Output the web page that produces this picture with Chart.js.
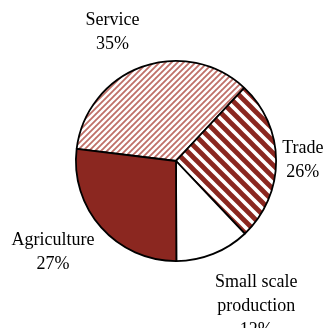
<!DOCTYPE html>
<html>
<head>
<meta charset="utf-8">
<script src="https://cdn.jsdelivr.net/npm/chart.js@4"></script>
<style>
html,body{margin:0;padding:0;background:#fff;}
#wrap{width:329px;height:328px;position:relative;}
</style>
</head>
<body>
<div id="wrap"><canvas id="c" width="329" height="328"></canvas></div>
<script>
// ---- data ----
const categories = ['Service', 'Trade', 'Small scale production', 'Agriculture'];
const shares = [35, 26, 12, 27];
const labelLines = [['Service', '35%'], ['Trade', '26%'], ['Small scale', 'production', '12%'], ['Agriculture', '27%']];
// label anchor offsets, in units of the pie radius (first line baseline)
const labelOffsets = [[-0.634, -1.356], [1.267, -0.079], [0.802, 1.257], [-1.228, 0.842]];

const DARK = '#8b2720';

function stripePattern(size, color, width, dir, bg) {
  const c = document.createElement('canvas');
  c.width = size; c.height = size;
  const g = c.getContext('2d');
  g.fillStyle = bg; g.fillRect(0, 0, size, size);
  g.strokeStyle = color; g.lineWidth = width; g.lineCap = 'square';
  for (let k = -1; k <= 1; k++) {
    g.beginPath();
    if (dir === '/') { g.moveTo(k * size, size); g.lineTo(k * size + size, 0); }
    else { g.moveTo(k * size, 0); g.lineTo(k * size + size, size); }
    g.stroke();
  }
  return g.createPattern(c, 'repeat');
}

const ctx0 = document.getElementById('c').getContext('2d');
const fills = [
  stripePattern(6, '#bf7069', 1.8, '/', '#ffffff'),
  stripePattern(12, DARK, 4.8, '\\', '#ffffff'),
  '#ffffff',
  DARK
];

const labelPlugin = {
  id: 'pieLabels',
  afterDraw(chart) {
    const meta = chart.getDatasetMeta(0);
    const ctx = chart.ctx;
    ctx.save();
    ctx.font = '18px "Liberation Serif", "Times New Roman", serif';
    ctx.fillStyle = '#000';
    ctx.textAlign = 'center';
    ctx.textBaseline = 'alphabetic';
    meta.data.forEach((arc, i) => {
      const r = arc.outerRadius;
      const x = arc.x + labelOffsets[i][0] * r;
      let y = arc.y + labelOffsets[i][1] * r;
      labelLines[i].forEach((t, j) => ctx.fillText(t, x, y + j * 24));
    });
    ctx.restore();
  }
};

new Chart(ctx0, {
  type: 'pie',
  data: {
    labels: categories,
    datasets: [{
      data: shares,
      backgroundColor: fills,
      borderColor: '#000',
      borderWidth: 1.8
    }]
  },
  options: {
    responsive: false,
    animation: false,
    rotation: -83,
    layout: { padding: { left: 75, right: 52, top: 60, bottom: 66 } },
    plugins: { legend: { display: false }, tooltip: { enabled: false } }
  },
  plugins: [labelPlugin]
});
</script>
</body>
</html>
